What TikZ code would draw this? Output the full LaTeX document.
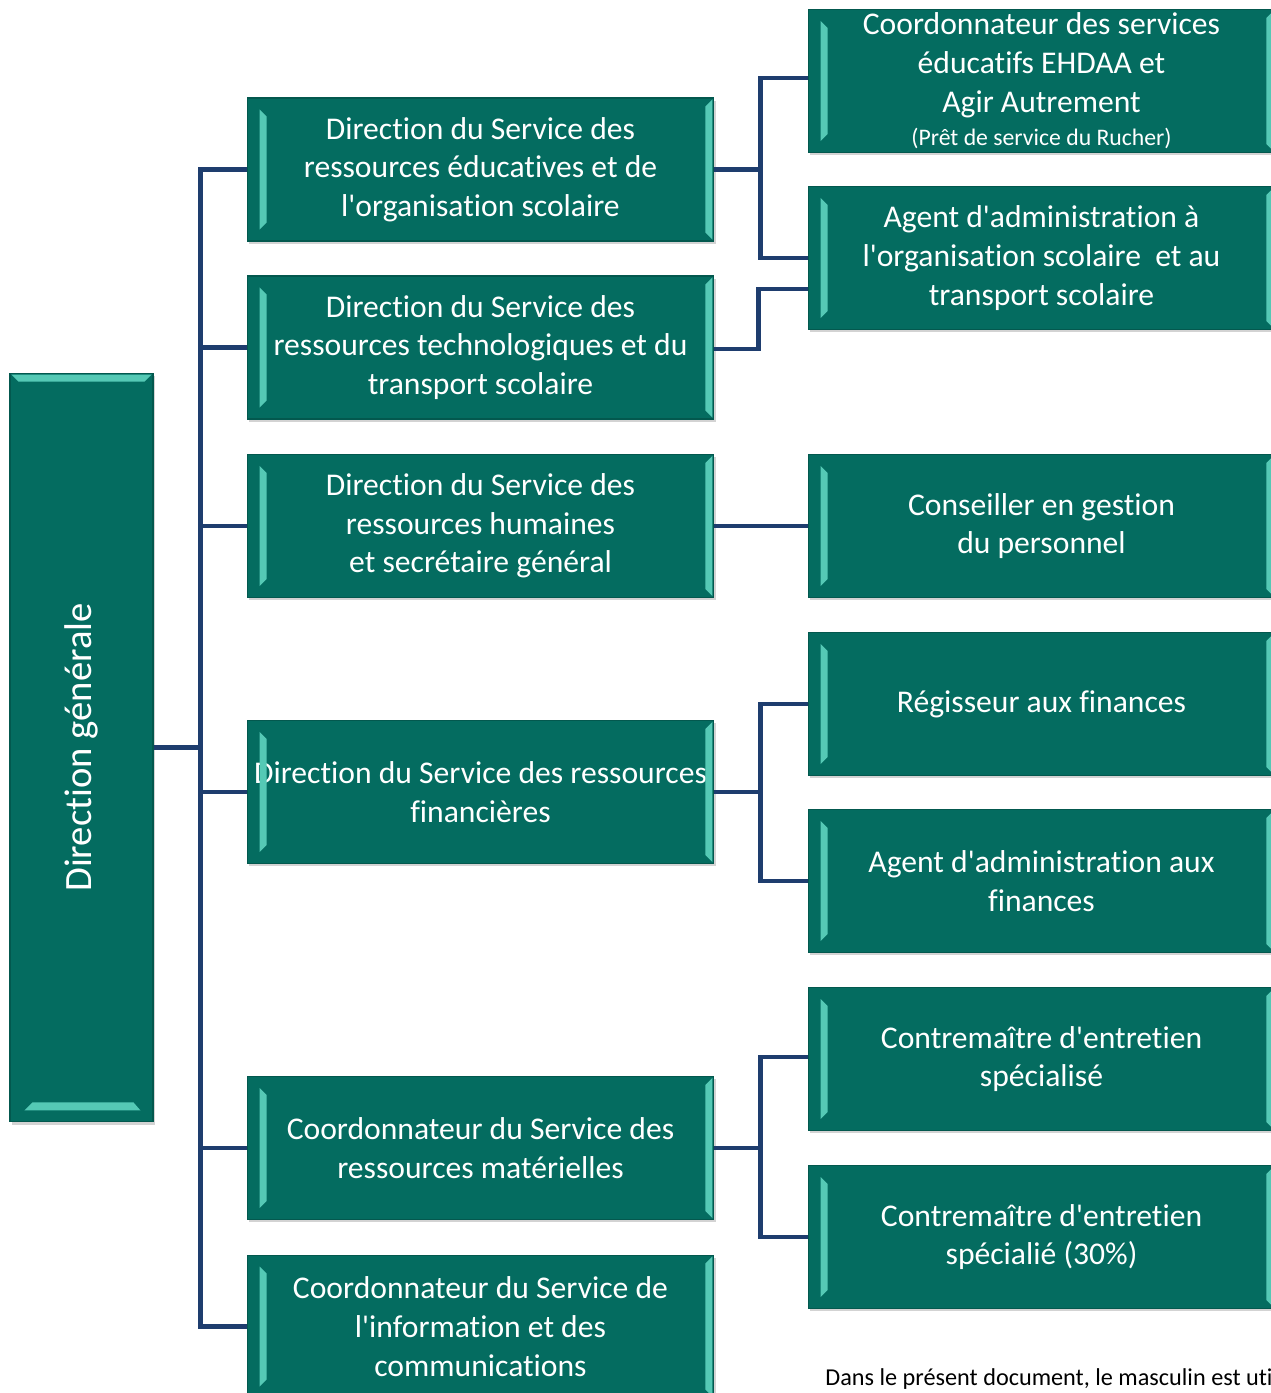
\documentclass[tikz,border=0pt]{standalone}
\usepackage{fontspec}
\setmainfont{Carlito}[Ligatures={NoCommon}]
\usetikzlibrary{calc,shadows}
\definecolor{boxteal}{HTML}{046C60}
\definecolor{boxedge}{HTML}{03584E}
\definecolor{bevlight}{HTML}{55C9B5}
\definecolor{connblue}{HTML}{1E3D6E}
\newcommand\apo{\textquotesingle}
\tikzset{
  orgbox/.style={draw=boxedge, line width=0.6pt, fill=boxteal, text=white,
    minimum width=9.34cm, minimum height=2.86cm, inner sep=0pt, align=center,
    font=\fontsize{18pt}{22pt}\selectfont,
    drop shadow={shadow xshift=1.2pt, shadow yshift=-1.6pt, opacity=0.35}},
  conn/.style={draw=connblue, line width=2.8pt},
  bevel/.style={fill=bevlight},
}
\newcommand\hbev[1]{%
  \fill[bevel] ($(#1.north west)+(13,12)$) -- ($(#1.north west)+(20,19)$) -- ($(#1.south west)+(20,-19)$) -- ($(#1.south west)+(13,-12)$) -- cycle;
  \fill[bevel] ($(#1.north east)+(-2,2)$) -- ($(#1.south east)+(-2,-2)$) -- ($(#1.south east)+(-9,-9)$) -- ($(#1.north east)+(-9,9)$) -- cycle;}
\begin{document}
\begin{tikzpicture}[x=0.02cm,y=-0.02cm]
\useasboundingbox (0,0) rectangle (1271,1393);
% Direction generale
\node[orgbox, minimum width=2.86cm, minimum height=14.98cm] (dg) at (81.5,747.5)
  {\rotatebox{90}{\fontsize{22pt}{26pt}\selectfont Direction générale}};
\fill[bevel] ($(dg.north west)+(2,2)$) -- ($(dg.north east)+(-2,2)$) -- ($(dg.north east)+(-9,9)$) -- ($(dg.north west)+(9,9)$) -- cycle;
\fill[bevel] ($(dg.south west)+(15,-12)$) -- ($(dg.south east)+(-13,-12)$) -- ($(dg.south east)+(-20,-20)$) -- ($(dg.south west)+(23,-20)$) -- cycle;
% middle column
\node[orgbox] (m1) at (480.5,169.5) {Direction du Service des\\ressources éducatives et de\\l\apo organisation scolaire};
\node[orgbox] (m2) at (480.5,347.5) {Direction du Service des\\ressources technologiques et du\\transport scolaire};
\node[orgbox] (m3) at (480.5,526) {Direction du Service des\\ressources humaines\\et secrétaire général};
\node[orgbox] (m4) at (480.5,792) {Direction du Service des ressources\\financières};
\node[orgbox] (m5) at (480.5,1148) {Coordonnateur du Service des\\ressources matérielles};
\node[orgbox] (m6) at (480.5,1326.5) {Coordonnateur du Service de\\l\apo information et des\\communications};
% right column
\node[orgbox] (r1) at (1041.5,81) {Coordonnateur des services\\éducatifs EHDAA et\\Agir Autrement\\[-3pt]{\fontsize{13.5pt}{16pt}\selectfont (Prêt de service du Rucher)}};
\node[orgbox] (r2) at (1041.5,258) {Agent d\apo administration à\\l\apo organisation scolaire~ et au\\transport scolaire};
\node[orgbox] (r3) at (1041.5,526) {Conseiller en gestion\\du personnel};
\node[orgbox] (r4) at (1041.5,704) {Régisseur aux finances};
\node[orgbox] (r5) at (1041.5,881) {Agent d\apo administration aux\\finances};
\node[orgbox] (r6) at (1041.5,1059) {Contremaître d\apo entretien\\spécialisé};
\node[orgbox] (r7) at (1041.5,1237) {Contremaître d\apo entretien\\spécialié (30\%)};
\foreach \b in {m1,m2,m3,m4,m5,m6,r1,r2,r3,r4,r5,r6,r7} {\hbev{\b}}
% footnote
\node[anchor=west, inner sep=0pt, font=\fontsize{13.8pt}{16pt}\selectfont] (note) at (825,1379)
  {Dans le présent document, le masculin est utilisé};
% connectors
\foreach \m in {m1,m2,m3,m4,m5,m6} {\draw[conn] (dg.east) -- ++(47,0) |- (\m.west);}
\draw[conn] (m1.east) -- ++(46,0) |- ($(r1.west)+(0,-3)$);
\draw[conn] (m1.east) -- ++(46,0) |- (r2.west);
\draw[conn] ($(m2.east)+(0,1.5)$) -- ++(44,0) |- ($(r2.west)+(0,31)$);
\draw[conn] (m3.east) -- (r3.west);
\draw[conn] (m4.east) -- ++(46,0) |- (r4.west);
\draw[conn] (m4.east) -- ++(46,0) |- (r5.west);
\draw[conn] (m5.east) -- ++(46,0) |- ($(r6.west)+(0,-2)$);
\draw[conn] (m5.east) -- ++(46,0) |- (r7.west);
\end{tikzpicture}
\end{document}
